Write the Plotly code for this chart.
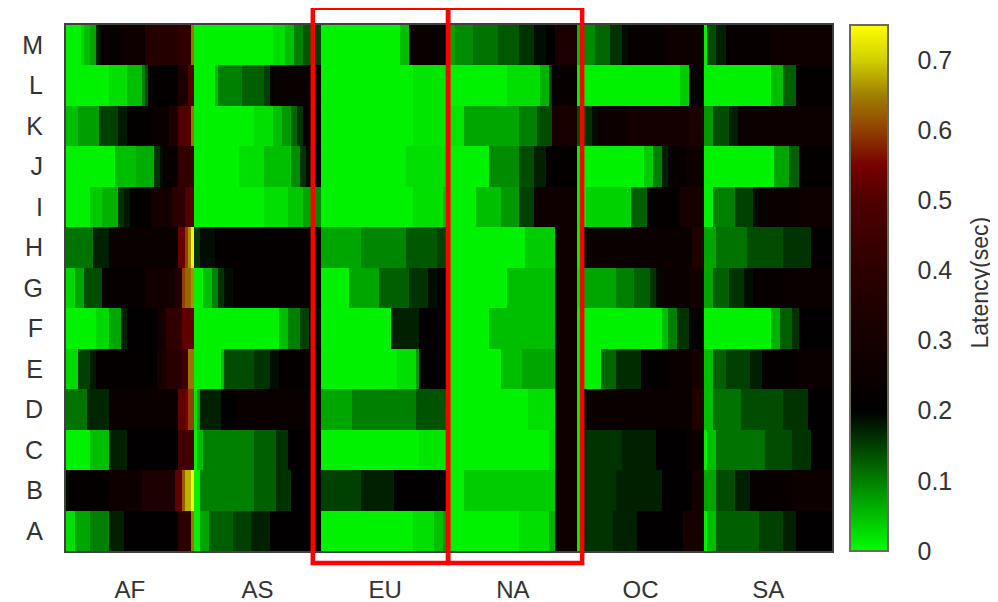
import plotly.graph_objects as go

# ---------------- data (latency in seconds) ----------------
rows = ["A", "B", "C", "D", "E", "F", "G", "H", "I", "J", "K", "L", "M"]
regions = ["AF", "AS", "EU", "NA", "OC", "SA"]
NODES_PER_REGION = 42
colorbar_ticks = [0, 0.1, 0.2, 0.3, 0.4, 0.5, 0.6, 0.7]
highlight_regions = ["EU", "NA"]

# each row of each region: list of (latency, number of nodes) runs, sorted left -> right
af_runs = {
    "M": [(0.01, 5), (0.03, 1), (0.05, 2), (0.07, 2), (0.17, 1), (0.19, 1), (0.23, 6), (0.27, 8), (0.37, 11), (0.41, 4), (0.64, 1)],
    "L": [(0.01, 14), (0.025, 6), (0.05, 5), (0.1, 1), (0.14, 1), (0.22, 10), (0.33, 3), (0.5, 2)],
    "K": [(0.05, 4), (0.075, 7), (0.15, 6), (0.18, 3), (0.22, 8), (0.25, 6), (0.33, 3), (0.5, 4), (0.64, 1)],
    "J": [(0.01, 16), (0.05, 7), (0.065, 6), (0.16, 2), (0.19, 1), (0.23, 5), (0.42, 5)],
    "I": [(0.01, 8), (0.04, 4), (0.06, 5), (0.16, 2), (0.18, 2), (0.22, 7), (0.29, 7), (0.4, 4), (0.5, 3)],
    "H": [(0.11, 9), (0.175, 5), (0.245, 23), (0.53, 2), (0.6, 1), (0.66, 1), (0.74, 1)],
    "G": [(0.03, 3), (0.07, 3), (0.14, 6), (0.23, 14), (0.28, 10), (0.35, 2), (0.6, 1), (0.63, 2), (0.66, 1)],
    "F": [(0.01, 10), (0.03, 4), (0.07, 4), (0.175, 2), (0.21, 10), (0.29, 3), (0.41, 5), (0.52, 4)],
    "E": [(0.03, 4), (0.15, 4), (0.18, 2), (0.22, 20), (0.3, 3), (0.38, 5), (0.45, 2), (0.64, 2)],
    "D": [(0.11, 7), (0.17, 7), (0.25, 23), (0.52, 2), (0.55, 1), (0.6, 2)],
    "C": [(0.01, 8), (0.05, 6), (0.175, 6), (0.21, 17), (0.46, 5)],
    "B": [(0.19, 1), (0.22, 13), (0.27, 11), (0.33, 11), (0.52, 2), (0.62, 1), (0.68, 2), (0.74, 1)],
    "A": [(0.025, 3), (0.07, 5), (0.1, 6), (0.175, 5), (0.21, 18), (0.4, 4), (0.64, 1)],
}
as_runs = {
    "M": [(0.01, 26), (0.025, 4), (0.05, 3), (0.1, 3), (0.13, 3), (0.15, 3)],
    "L": [(0.01, 7), (0.05, 1), (0.1, 8), (0.125, 7), (0.15, 2), (0.2, 1), (0.24, 16)],
    "K": [(0.01, 20), (0.025, 6), (0.05, 3), (0.08, 3), (0.12, 2), (0.16, 2), (0.21, 6)],
    "J": [(0.01, 15), (0.025, 8), (0.05, 9), (0.09, 3), (0.16, 2), (0.19, 2), (0.21, 3)],
    "I": [(0.01, 23), (0.025, 8), (0.045, 5), (0.07, 3), (0.09, 3)],
    "H": [(0.16, 2), (0.19, 5), (0.22, 35)],
    "G": [(0.01, 3), (0.05, 3), (0.1, 2), (0.16, 2), (0.19, 3), (0.22, 29)],
    "F": [(0.01, 28), (0.05, 3), (0.1, 4), (0.15, 3), (0.19, 4)],
    "E": [(0.01, 9), (0.05, 1), (0.14, 10), (0.16, 5), (0.19, 3), (0.22, 14)],
    "D": [(0.02, 1), (0.07, 1), (0.175, 7), (0.2, 5), (0.24, 28)],
    "C": [(0.01, 1), (0.05, 2), (0.1, 17), (0.125, 7), (0.16, 4), (0.21, 11)],
    "B": [(0.01, 2), (0.1, 18), (0.125, 7), (0.16, 5), (0.21, 10)],
    "A": [(0.01, 2), (0.07, 3), (0.125, 8), (0.15, 6), (0.175, 6), (0.21, 17)],
}
eu_runs = {
    "M": [(0.01, 26), (0.05, 3), (0.24, 13)],
    "L": [(0.01, 30), (0.02, 12)],
    "K": [(0.01, 30), (0.02, 12)],
    "J": [(0.01, 28), (0.025, 14)],
    "I": [(0.01, 30), (0.025, 10), (0.05, 2)],
    "H": [(0.07, 13), (0.095, 15), (0.13, 10), (0.15, 4)],
    "G": [(0.01, 9), (0.07, 10), (0.125, 10), (0.16, 6), (0.19, 3), (0.22, 4)],
    "F": [(0.01, 23), (0.175, 9), (0.21, 10)],
    "E": [(0.01, 25), (0.025, 6), (0.08, 1), (0.19, 1), (0.21, 9)],
    "D": [(0.07, 10), (0.1, 21), (0.135, 11)],
    "C": [(0.01, 32), (0.02, 10)],
    "B": [(0.15, 13), (0.175, 11), (0.21, 18)],
    "A": [(0.01, 30), (0.025, 7), (0.05, 3), (0.08, 2)],
}
na_runs = {
    "M": [(0.07, 2), (0.09, 6), (0.11, 8), (0.13, 7), (0.16, 5), (0.19, 4), (0.22, 3), (0.32, 7)],
    "L": [(0.01, 19), (0.025, 11), (0.06, 3), (0.15, 1), (0.23, 8)],
    "K": [(0.02, 5), (0.07, 18), (0.1, 6), (0.14, 5), (0.31, 8)],
    "J": [(0.01, 13), (0.09, 10), (0.14, 5), (0.175, 4), (0.22, 10)],
    "I": [(0.01, 9), (0.05, 8), (0.08, 6), (0.15, 5), (0.27, 14)],
    "H": [(0.01, 25), (0.04, 10), (0.27, 7)],
    "G": [(0.01, 19), (0.05, 16), (0.27, 7)],
    "F": [(0.01, 13), (0.05, 22), (0.27, 7)],
    "E": [(0.01, 17), (0.05, 7), (0.07, 11), (0.27, 7)],
    "D": [(0.01, 26), (0.025, 9), (0.27, 7)],
    "C": [(0.01, 33), (0.03, 2), (0.27, 7)],
    "B": [(0.01, 5), (0.04, 30), (0.27, 7)],
    "A": [(0.01, 23), (0.025, 10), (0.06, 2), (0.27, 7)],
}
oc_runs = {
    "M": [(0.05, 2), (0.09, 4), (0.12, 5), (0.16, 4), (0.19, 2), (0.23, 12), (0.27, 13)],
    "L": [(0.01, 34), (0.04, 3), (0.21, 5)],
    "K": [(0.14, 3), (0.16, 2), (0.19, 2), (0.26, 10), (0.29, 20), (0.33, 5)],
    "J": [(0.01, 22), (0.04, 3), (0.1, 3), (0.175, 2), (0.23, 6), (0.27, 6)],
    "I": [(0.01, 3), (0.035, 15), (0.125, 5), (0.22, 11), (0.3, 8)],
    "H": [(0.01, 1), (0.22, 2), (0.25, 35), (0.35, 4)],
    "G": [(0.02, 1), (0.07, 12), (0.1, 6), (0.125, 5), (0.16, 2), (0.19, 1), (0.24, 10), (0.28, 5)],
    "F": [(0.01, 28), (0.05, 2), (0.1, 3), (0.16, 4), (0.21, 5)],
    "E": [(0.01, 8), (0.12, 5), (0.165, 8), (0.22, 9), (0.25, 8), (0.3, 4)],
    "D": [(0.01, 1), (0.22, 2), (0.25, 35), (0.36, 4)],
    "C": [(0.01, 1), (0.16, 14), (0.175, 11), (0.21, 10), (0.24, 6)],
    "B": [(0.01, 1), (0.16, 12), (0.175, 15), (0.21, 10), (0.29, 4)],
    "A": [(0.01, 1), (0.16, 11), (0.175, 8), (0.21, 15), (0.3, 7)],
}
sa_runs = {
    "M": [(0.01, 1), (0.14, 3), (0.175, 3), (0.23, 15), (0.27, 20)],
    "L": [(0.01, 22), (0.05, 4), (0.125, 4), (0.22, 12)],
    "K": [(0.08, 3), (0.14, 5), (0.175, 3), (0.26, 31)],
    "J": [(0.01, 23), (0.07, 5), (0.125, 3), (0.22, 11)],
    "I": [(0.01, 3), (0.1, 7), (0.15, 6), (0.19, 2), (0.24, 14), (0.27, 10)],
    "H": [(0.07, 4), (0.11, 10), (0.14, 12), (0.16, 9), (0.21, 7)],
    "G": [(0.07, 3), (0.125, 5), (0.16, 5), (0.19, 3), (0.23, 13), (0.25, 13)],
    "F": [(0.01, 22), (0.06, 3), (0.125, 4), (0.16, 2), (0.21, 11)],
    "E": [(0.05, 3), (0.125, 4), (0.15, 8), (0.175, 4), (0.22, 11), (0.25, 12)],
    "D": [(0.05, 3), (0.11, 9), (0.14, 14), (0.16, 8), (0.21, 8)],
    "C": [(0.01, 1), (0.05, 3), (0.11, 16), (0.14, 9), (0.16, 6), (0.21, 7)],
    "B": [(0.07, 4), (0.14, 6), (0.175, 5), (0.23, 14), (0.26, 13)],
    "A": [(0.01, 1), (0.05, 3), (0.125, 14), (0.15, 8), (0.175, 4), (0.21, 12)],
}
region_runs = [af_runs, as_runs, eu_runs, na_runs, oc_runs, sa_runs]

# ---------------- build matrix ----------------
z = []
for r in rows:
    line = []
    for runs in region_runs:
        seg = []
        for v, n in runs[r]:
            seg.extend([v] * n)
        assert len(seg) == NODES_PER_REGION, (r, len(seg))
        line.extend(seg)
    z.append(line)
ncols = len(z[0])
x_idx = list(range(ncols))

ZMAX = 0.75
stops = [
    (0.0, "#00ff00"), (0.2, "#000000"), (0.3, "#160000"), (0.4, "#2c0000"),
    (0.5, "#500000"), (0.55, "#780000"), (0.6, "#904000"), (0.65, "#a08000"),
    (0.7, "#d0d000"), (0.75, "#ffff00"),
]
colorscale = [[v / ZMAX, c] for v, c in stops]

FONT = "Liberation Sans, Arial, sans-serif"
TXT = "#333333"
INVIS = "rgba(0,0,0,0)"

fig = go.Figure(go.Heatmap(
    z=z, x=x_idx, y=rows,
    zmin=0, zmax=ZMAX, colorscale=colorscale,
    colorbar=dict(
        x=1.0235, xanchor="left", y=0.5, yanchor="middle",
        len=1, lenmode="fraction", thickness=38, xpad=0, ypad=0,
        outlinewidth=2, outlinecolor="#6a6a5a",
        tickvals=colorbar_ticks, ticktext=[f"{t:g}" for t in colorbar_ticks],
        ticks="outside", ticklen=24, tickcolor=INVIS,
        tickfont=dict(family=FONT, size=25, color=TXT),
    ),
))

centers = [i * NODES_PER_REGION + (NODES_PER_REGION - 1) / 2 for i in range(len(regions))]
fig.update_xaxes(
    range=[-0.5, ncols - 0.5], tickvals=centers, ticktext=regions,
    ticks="outside", ticklen=16, tickcolor=INVIS,
    tickfont=dict(family=FONT, size=24, color=TXT),
    showgrid=False, zeroline=False, showline=True, mirror=True,
    linecolor="#404040", linewidth=2, automargin=False,
)
fig.update_yaxes(
    ticks="outside", ticklen=16, tickcolor=INVIS,
    tickfont=dict(family=FONT, size=25, color=TXT),
    showgrid=False, zeroline=False, showline=True, mirror=True,
    linecolor="#404040", linewidth=2, automargin=False,
)

# red boxes around the highlighted regions
def xpaper(col_edge):
    return col_edge / ncols

shapes = []
for name in highlight_regions:
    i = regions.index(name)
    start = i * NODES_PER_REGION
    end = (i + 1) * NODES_PER_REGION
    left_pad = 2.8 if name == "EU" else 0.3
    right_pad = -0.3 if name == "EU" else 1.8
    shapes.append(dict(
        type="rect", xref="paper", yref="paper",
        x0=xpaper(start - left_pad), x1=xpaper(end + right_pad),
        y0=-0.023, y1=1.033,
        line=dict(color="#ff0000", width=4.5), fillcolor=INVIS, layer="above",
    ))

# the page body adds an 8 px offset, so the figure is 8 px smaller and margins shifted
fig.update_layout(
    width=990, height=594,
    margin=dict(l=58, r=166, t=17, b=51, autoexpand=False),
    paper_bgcolor="white", plot_bgcolor="white",
    font=dict(family=FONT, color=TXT),
    shapes=shapes,
    annotations=[dict(
        text="Latency(sec)", textangle=-90, xref="paper", yref="paper",
        x=1.193, y=0.51, xanchor="center", yanchor="middle", showarrow=False,
        font=dict(family=FONT, size=23, color=TXT),
    )],
)

fig.write_html("out.html")
